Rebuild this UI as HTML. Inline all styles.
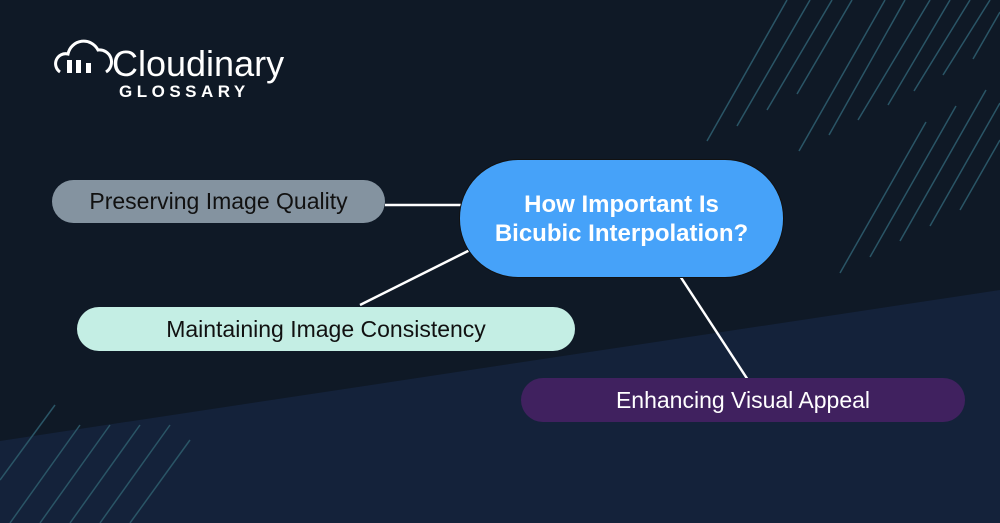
<html><head><style>
body{margin:0;width:1000px;height:523px;overflow:hidden;background:#0f1926;font-family:"Liberation Sans",sans-serif}
.p{position:absolute;border-radius:22px;display:flex;align-items:center;justify-content:center;font-size:23px}
</style></head><body>
<svg width="1000" height="523" style="position:absolute;left:0;top:0">
<polygon points="0,441 1000,290 1000,523 0,523" fill="#14223a"/>
<g stroke="#2a5566" stroke-width="1.5">
<line x1="707" y1="141" x2="787" y2="0"/><line x1="737" y1="126" x2="810" y2="0"/>
<line x1="767" y1="110" x2="832" y2="0"/><line x1="797" y1="94" x2="852" y2="0"/>
<line x1="799" y1="151" x2="885" y2="0"/><line x1="829" y1="135" x2="905" y2="0"/>
<line x1="858" y1="120" x2="930" y2="0"/><line x1="888" y1="105" x2="950" y2="0"/>
<line x1="914" y1="91" x2="970" y2="0"/><line x1="943" y1="75" x2="990" y2="0"/>
<line x1="973" y1="59" x2="1000" y2="12"/><line x1="840" y1="273" x2="926" y2="122"/>
<line x1="870" y1="257" x2="956" y2="106"/><line x1="900" y1="241" x2="986" y2="90"/>
<line x1="930" y1="226" x2="1000" y2="103"/><line x1="960" y1="210" x2="1000" y2="140"/>
<line x1="0" y1="480" x2="55" y2="405"/><line x1="10" y1="523" x2="80" y2="425"/>
<line x1="40" y1="523" x2="110" y2="425"/><line x1="70" y1="523" x2="140" y2="425"/>
<line x1="100" y1="523" x2="170" y2="425"/><line x1="130" y1="523" x2="190" y2="440"/>
</g>
<g stroke="#fff" stroke-width="2.5">
<line x1="385" y1="205" x2="462" y2="205"/><line x1="360" y1="305" x2="470" y2="250"/>
<line x1="680" y1="276" x2="748" y2="380"/>
</g>
<g fill="none" stroke="#fff" stroke-width="3">
<path d="M60,72 a10,10 0 0 1 8,-18 a16,16 0 0 1 30,-4 a12,12 0 0 1 8,22"/>
</g>
<g fill="#fff"><rect x="67" y="60" width="5" height="13"/><rect x="76" y="60" width="5" height="13"/><rect x="86" y="63" width="5" height="10"/></g>
</svg>
<div style="position:absolute;left:112px;top:43px;color:#fff;font-size:36px">Cloudinary</div>
<div style="position:absolute;left:119px;top:82px;color:#fff;font-size:17px;font-weight:bold;letter-spacing:4.5px">GLOSSARY</div>
<div class="p" style="left:52px;top:180px;width:333px;height:43px;background:#8493a0;color:#111">Preserving Image Quality</div>
<div class="p" style="left:77px;top:307px;width:498px;height:44px;background:#c4eee4;color:#111">Maintaining Image Consistency</div>
<div class="p" style="left:521px;top:378px;width:444px;height:44px;background:#40215f;color:#fff">Enhancing Visual Appeal</div>
<div class="p" style="left:459px;top:159px;width:323px;height:117px;border-radius:59px;background:#46a2f9;color:#fff;font-weight:bold;font-size:24px;text-align:center;line-height:29px;border:1px solid #111">How Important Is<br>Bicubic Interpolation?</div>
</body></html>
